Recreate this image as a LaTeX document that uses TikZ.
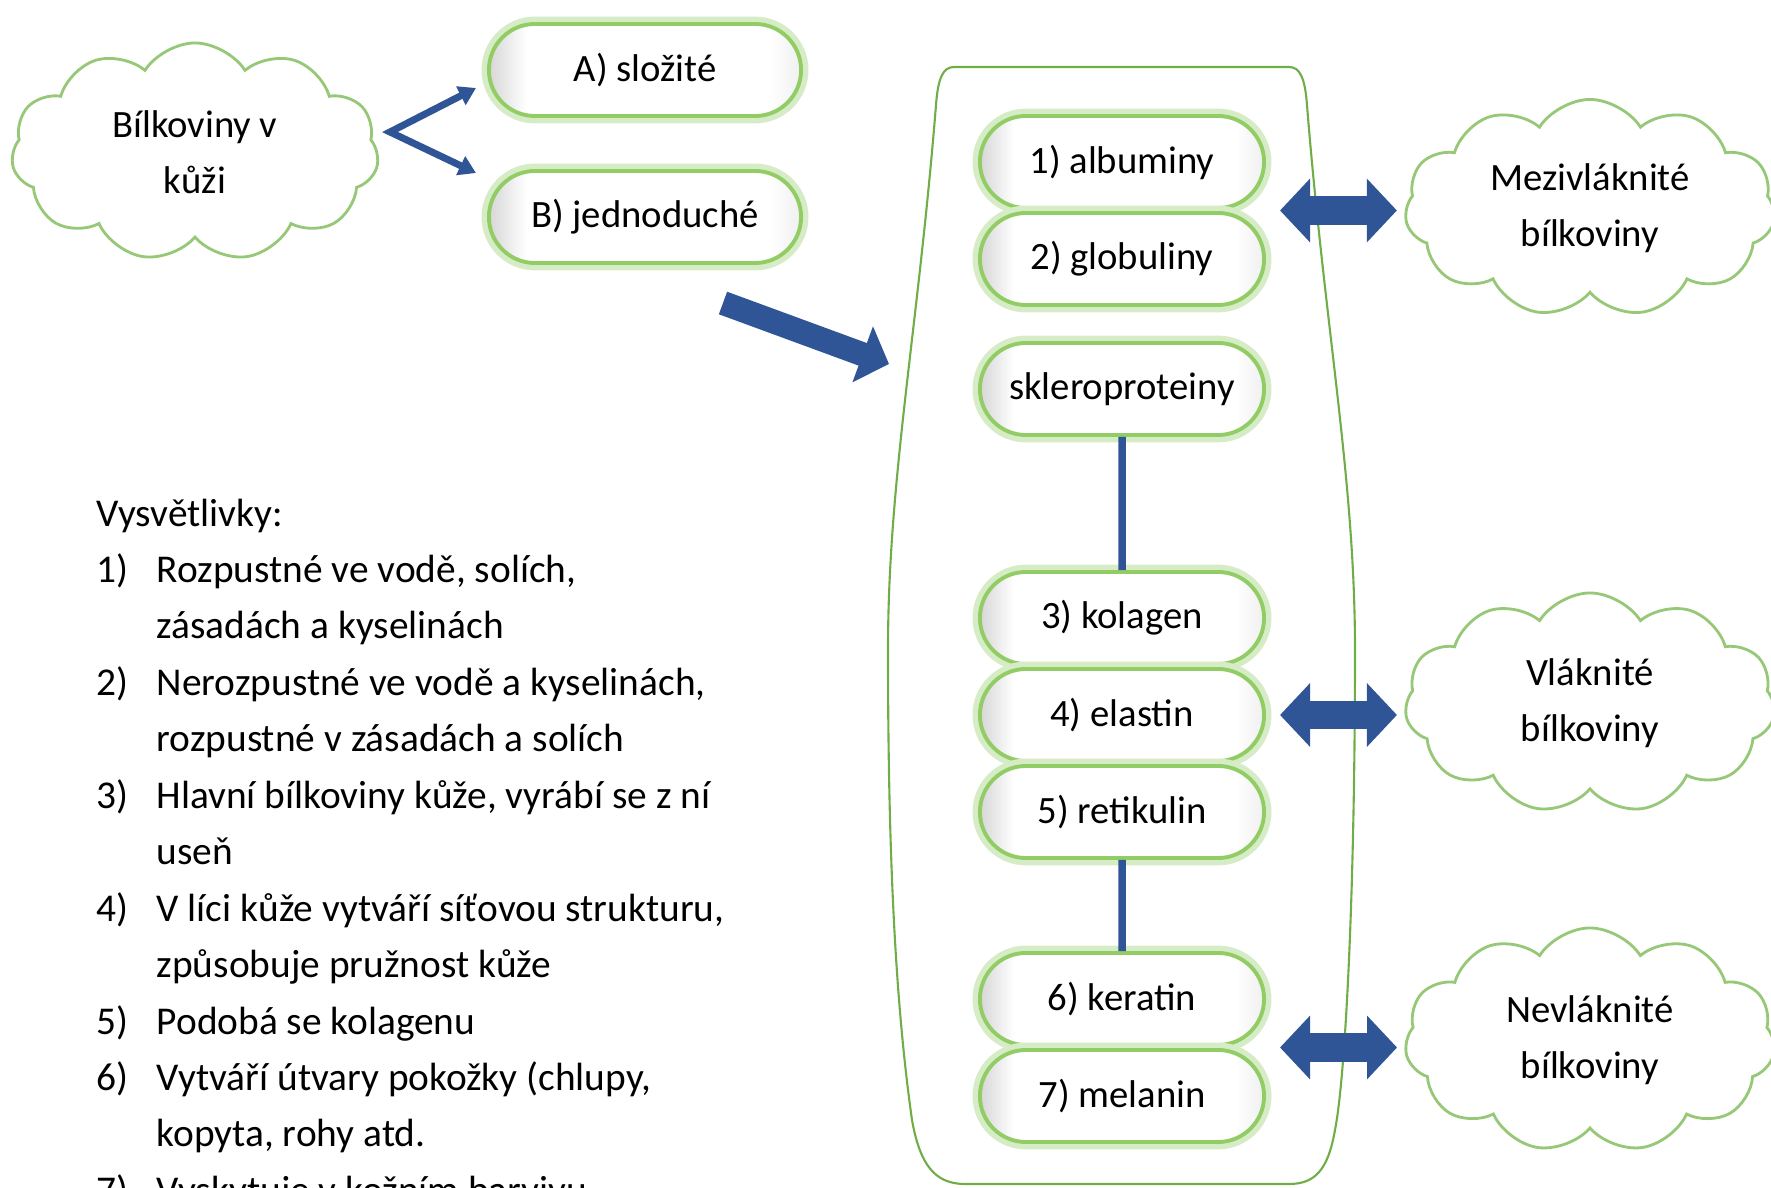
\documentclass[tikz,border=0pt]{standalone}
\usepackage{fontspec}
\setmainfont{Carlito}
\usetikzlibrary{arrows.meta,shapes.misc,shapes.symbols,calc}

\definecolor{modra}{RGB}{47,85,151}
\definecolor{zelena}{RGB}{146,204,100}
\definecolor{zar}{RGB}{214,236,198}
\definecolor{oblakzel}{RGB}{150,200,120}
\definecolor{nadobazel}{RGB}{112,173,71}

\pgfdeclarehorizontalshading{pillstin}{100bp}{color(0bp)=(black!16); color(25bp)=(black!16); color(31bp)=(white); color(70bp)=(white); color(75bp)=(black!6); color(100bp)=(black!6)}

\newcommand{\pismo}{\fontsize{11}{16}\selectfont}

\begin{document}
\begin{tikzpicture}[x=0.01cm, y=-0.01cm,
  pill/.style={rounded rectangle, draw=zelena, line width=1.1pt, shading=pillstin, preaction={draw=zar, line width=4.2pt}, minimum height=0.92cm, inner sep=0pt, font=\pismo},
  horni/.style={pill, minimum width=3.12cm},
  vnitrni/.style={pill, minimum width=2.84cm},
  oblak/.style={cloud, cloud puffs=11, cloud puff arc=115, cloud ignores aspect, draw=oblakzel, line width=0.8pt, fill=white, align=center, inner sep=0pt, font=\pismo},
  tenka/.style={draw=modra, line width=0.07cm, line join=miter, {Triangle[length=0.17cm, width=0.2cm]}-{Triangle[length=0.17cm, width=0.2cm]}},
  velka/.style={draw=modra, line width=0.24cm, -{Triangle[length=0.28cm, width=0.58cm]}},
  obousm/.style={draw=modra, line width=0.28cm, {Triangle[length=0.3cm, width=0.62cm]}-{Triangle[length=0.3cm, width=0.62cm]}},
  spoj/.style={draw=modra, line width=0.075cm}
]

\useasboundingbox (0,0) rectangle (1771,1188);
\clip (0,0) rectangle (1771,1188);

\draw[nadobazel, line width=0.6pt] (954,67) -- (1289,67) .. controls (1300,67) and (1305,78) .. (1307,105) .. controls (1325,330) and (1355,480) .. (1355,650) .. controls (1355,900) and (1345,1080) .. (1335,1130) .. controls (1328,1170) and (1315,1184) .. (1289,1184) -- (965,1184) .. controls (935,1184) and (920,1165) .. (912,1120) .. controls (895,1000) and (888,850) .. (888,650) .. controls (888,480) and (918,330) .. (936,105) .. controls (938,78) and (943,67) .. (954,67);

\node[oblak, minimum width=3.67cm, minimum height=2.18cm] (bilkoviny) at (195,152) {Bílkoviny v\\kůži};

\node[horni] (slozite) at (645,70) {A) složité};
\node[horni] (jednoduche) at (645,217) {B) jednoduché};

\node[vnitrni] (albuminy) at (1122,162) {1) albuminy};
\node[vnitrni] (globuliny) at (1122,259) {2) globuliny};
\node[vnitrni] (sklero) at (1122,389) {skleroproteiny};
\node[vnitrni] (kolagen) at (1122,618) {3) kolagen};
\node[vnitrni] (elastin) at (1122,715) {4) elastin};
\node[vnitrni] (retikulin) at (1122,812) {5) retikulin};
\node[vnitrni] (keratin) at (1122,999) {6) keratin};
\node[vnitrni] (melanin) at (1122,1096) {7) melanin};

\node[oblak, minimum width=3.7cm, minimum height=2.17cm] (mezivlaknite) at (1590,208) {Mezivláknité\\bílkoviny};
\node[oblak, minimum width=3.7cm, minimum height=2.2cm] (vlaknite) at (1590,703) {Vláknité\\bílkoviny};
\node[oblak, minimum width=3.7cm, minimum height=2.24cm] (nevlaknite) at (1590,1040) {Nevláknité\\bílkoviny};

\coordinate (rozcesti) at (390,132);
\coordinate (hrotA) at (476,88);
\coordinate (hrotB) at (476,173);
\draw[tenka] (hrotA) -- (rozcesti) -- (hrotB);

\coordinate (ocas) at (723,303);
\coordinate (hrot) at (889,364);
\draw[velka] (ocas) -- (hrot);

\draw[spoj] (sklero) -- (kolagen);
\draw[spoj] (retikulin) -- (keratin);

\coordinate (mezi1) at ($(albuminy.east)!0.5!(globuliny.east)$);
\coordinate (mezi2) at ($(keratin.east)!0.5!(melanin.east)$);
\draw[obousm, shorten <=0.14cm, shorten >=0.08cm] (mezi1) -- (mezi1 -| mezivlaknite.west);
\draw[obousm, shorten <=0.14cm, shorten >=0.08cm] (elastin.east) -- (elastin.east -| vlaknite.west);
\draw[obousm, shorten <=0.14cm, shorten >=0.08cm] (mezi2) -- (mezi2 -| nevlaknite.west);

\node[font=\fontsize{11.2}{16.05}\selectfont, align=left, anchor=north west, inner sep=0pt] (vysvetlivky) at (96,498) {Vysvětlivky:\\
\makebox[0.6cm][l]{1)}Rozpustné ve vodě, solích,\\
\hspace*{0.6cm}zásadách a kyselinách\\
\makebox[0.6cm][l]{2)}Nerozpustné ve vodě a kyselinách,\\
\hspace*{0.6cm}rozpustné v zásadách a solích\\
\makebox[0.6cm][l]{3)}Hlavní bílkoviny kůže, vyrábí se z ní\\
\hspace*{0.6cm}useň\\
\makebox[0.6cm][l]{4)}V líci kůže vytváří síťovou strukturu,\\
\hspace*{0.6cm}způsobuje pružnost kůže\\
\makebox[0.6cm][l]{5)}Podobá se kolagenu\\
\makebox[0.6cm][l]{6)}Vytváří útvary pokožky (chlupy,\\
\hspace*{0.6cm}kopyta, rohy atd.\\
\makebox[0.6cm][l]{7)}Vyskytuje v kožním barvivu};

\end{tikzpicture}
\end{document}
